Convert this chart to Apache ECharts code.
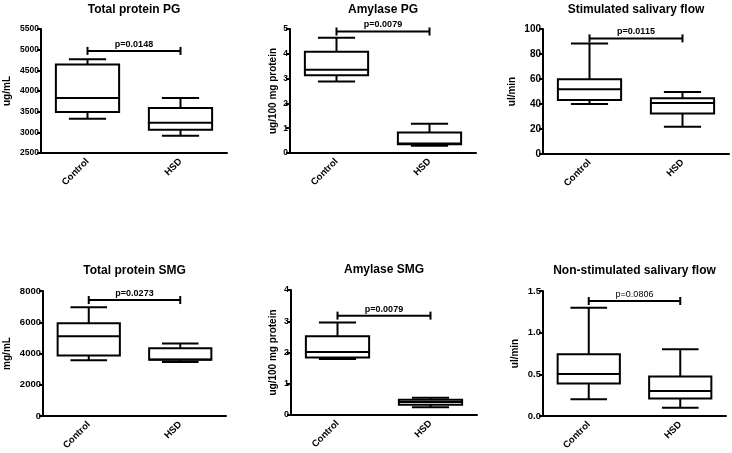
<!DOCTYPE html>
<html><head><meta charset="utf-8">
<script src="https://cdn.jsdelivr.net/npm/echarts@6/dist/echarts.min.js"></script>
<style>html,body{margin:0;padding:0;background:#fff}#c{width:732px;height:453px}</style>
</head><body><div id="c"></div>
<script>
// ---- data ----
const categories = ['Control', 'HSD'];
const titles = ['Total protein PG', 'Amylase PG', 'Stimulated salivary flow', 'Total protein SMG', 'Amylase SMG', 'Non-stimulated salivary flow'];
const yNames = ['ug/mL', 'ug/100 mg protein', 'ul/min', 'mg/mL', 'ug/100 mg protein', 'ul/min'];
// [min, Q1, median, Q3, max] for Control, HSD
const totalProteinPG = [[3330, 3490, 3830, 4640, 4770], [2920, 3065, 3230, 3590, 3830]];
const amylasePG = [[2.88, 3.14, 3.36, 4.08, 4.65], [0.29, 0.35, 0.38, 0.83, 1.18]];
const stimulatedFlow = [[40, 43.3, 51.9, 59.9, 88.5], [21.9, 32.4, 40.9, 44.7, 49.7]];
const totalProteinSMG = [[3570, 3870, 5110, 5930, 6960], [3450, 3600, 3620, 4330, 4640]];
const amylaseSMG = [[1.79, 1.84, 2.02, 2.52, 2.96], [0.25, 0.33, 0.42, 0.49, 0.55]];
const nonStimulatedFlow = [[0.20, 0.39, 0.505, 0.742, 1.30], [0.10, 0.21, 0.30, 0.473, 0.80]];
const pValues = ['p=0.0148', 'p=0.0079', 'p=0.0115', 'p=0.0273', 'p=0.0079', 'p=0.0806'];
const bracketY = [4970, 4.9, 92.5, 7420, 3.18, 1.38];
const yMin = [2500, 0, 0, 0, 0, 0];
const yMax = [5500, 5, 100, 8000, 4, 1.5];
const yInterval = [500, 1, 20, 2000, 1, 0.5];
const yDecimals = [0, 0, 0, 0, 0, 1];

// ---- layout ----
const panels = [totalProteinPG, amylasePG, stimulatedFlow, totalProteinSMG, amylaseSMG, nonStimulatedFlow];
const grids = [
  {left: 41, top: 29, width: 186, height: 124},
  {left: 290, top: 29, width: 186, height: 124},
  {left: 543, top: 29, width: 186, height: 125},
  {left: 43, top: 291, width: 183, height: 125},
  {left: 291, top: 290, width: 186, height: 125},
  {left: 543, top: 291, width: 183, height: 125}
];
const nameGaps = [29, 12, 26, 31, 13, 23];
const tickFont = [8.5, 8.5, 10, 9.5, 9, 9.5];
const titleTops = [4, 4, 4, 265, 264, 265];
const pBold = [true, true, true, true, true, false];
const FONT = '"Liberation Sans", Arial, Helvetica, sans-serif';

const option = {
  animation: false,
  backgroundColor: '#fff',
  title: titles.map((t, i) => ({
    text: t, left: grids[i].left + grids[i].width / 2, top: titleTops[i], textAlign: 'center', padding: 0,
    textStyle: {fontFamily: FONT, fontSize: 12, fontWeight: 'bold', color: '#000'}
  })),
  grid: grids.map(g => Object.assign({containLabel: false}, g)),
  xAxis: grids.map((g, i) => ({
    type: 'category', gridIndex: i, data: categories,
    axisLine: {lineStyle: {color: '#000', width: 2}},
    axisTick: {alignWithLabel: true, length: 4, lineStyle: {color: '#000', width: 2}},
    axisLabel: {rotate: 45, margin: 7, color: '#000', fontFamily: FONT, fontSize: 9.5, fontWeight: 'bold'}
  })),
  yAxis: grids.map((g, i) => ({
    type: 'value', gridIndex: i, min: yMin[i], max: yMax[i], interval: yInterval[i],
    name: yNames[i], nameLocation: 'middle', nameGap: nameGaps[i],
    nameTextStyle: {color: '#000', fontFamily: FONT, fontSize: 10, fontWeight: 'bold'},
    splitLine: {show: false},
    axisLine: {show: true, lineStyle: {color: '#000', width: 2}},
    axisTick: {show: true, length: 4, lineStyle: {color: '#000', width: 2}},
    axisLabel: {margin: 2, color: '#000', fontFamily: FONT, fontSize: tickFont[i], fontWeight: 'bold',
      formatter: v => v.toFixed(yDecimals[i])}
  })),
  series: []
};

panels.forEach((vals, i) => {
  option.series.push({
    type: 'custom', xAxisIndex: i, yAxisIndex: i, clip: false,
    data: vals.map((v, k) => [k].concat(v)),
    encode: {x: 0, y: [1, 2, 3, 4, 5]},
    renderItem: function (params, api) {
      const k = api.value(0);
      const p = [1, 2, 3, 4, 5].map(j => api.coord([k, api.value(j)]));
      const band = api.size([1, 0])[0];
      const bw = band * 0.34, cw = band * 0.2;
      const cx = p[0][0];
      const ls = {stroke: '#000', lineWidth: 2};
      const ln = (x1, y1, x2, y2) => ({type: 'line', shape: {x1, y1, x2, y2}, style: ls});
      return {type: 'group', children: [
        ln(cx, p[4][1], cx, p[3][1]),
        ln(cx, p[1][1], cx, p[0][1]),
        ln(cx - cw, p[4][1], cx + cw, p[4][1]),
        ln(cx - cw, p[0][1], cx + cw, p[0][1]),
        {type: 'rect', shape: {x: cx - bw, y: p[3][1], width: 2 * bw, height: p[1][1] - p[3][1]},
          style: {stroke: '#000', lineWidth: 2, fill: '#fff'}},
        ln(cx - bw, p[2][1], cx + bw, p[2][1])
      ]};
    }
  });
  option.series.push({
    type: 'custom', xAxisIndex: i, yAxisIndex: i, clip: false,
    data: [[0, 1, bracketY[i]]],
    encode: {x: [0, 1], y: 2},
    renderItem: function (params, api) {
      const a = api.coord([api.value(0), api.value(2)]);
      const b = api.coord([api.value(1), api.value(2)]);
      const ls = {stroke: '#000', lineWidth: 2};
      return {type: 'group', children: [
        {type: 'line', shape: {x1: a[0], y1: a[1], x2: b[0], y2: b[1]}, style: ls},
        {type: 'line', shape: {x1: a[0], y1: a[1] - 4, x2: a[0], y2: a[1] + 4}, style: ls},
        {type: 'line', shape: {x1: b[0], y1: b[1] - 4, x2: b[0], y2: b[1] + 4}, style: ls},
        {type: 'text', style: {text: pValues[i], x: (a[0] + b[0]) / 2, y: a[1] - 2,
          textAlign: 'center', textVerticalAlign: 'bottom', fill: '#000',
          font: (pBold[i] ? 'bold ' : '') + '9px ' + FONT}}
      ]};
    }
  });
});

const chart = echarts.init(document.getElementById('c'), null, {renderer: 'canvas'});
chart.setOption(option);
</script>
</body></html>
